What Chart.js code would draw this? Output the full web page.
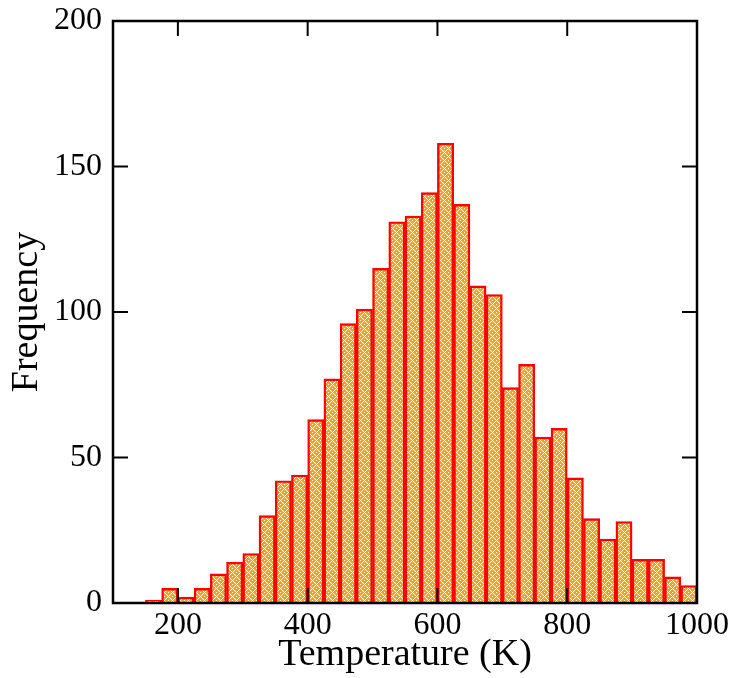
<!DOCTYPE html>
<html>
<head>
<meta charset="utf-8">
<script src="https://cdn.jsdelivr.net/npm/chart.js@4"></script>
<style>
  html, body { margin: 0; padding: 0; background: #ffffff; }
  #wrap { width: 733px; height: 678px; }
</style>
</head>
<body>
<div id="wrap"><canvas id="c" width="733" height="678"></canvas></div>
<script>
// ---- data ----
const binLow = [150,175,200,225,250,275,300,325,350,375,400,425,450,475,500,525,550,575,600,625,650,675,700,725,750,775,800,825,850,875,900,925,950,975];
const binWidth = 25;
const frequency = [1,5,2,5,10,14,17,30,42,44,63,77,96,101,115,131,133,141,158,137,109,106,74,82,57,60,43,29,22,28,15,15,9,6];
const xTickValues = [200,400,600,800,1000];
const yTickValues = [0,50,100,150,200];
const xTitle = 'Temperature (K)';
const yTitle = 'Frequency';

const FONT = "'Liberation Serif', 'Times New Roman', serif";

// woven pattern fill
function makePattern() {
  const t = document.createElement('canvas');
  t.width = 8; t.height = 8;
  const g = t.getContext('2d');
  g.fillStyle = '#ffa500';
  g.fillRect(0, 0, 8, 8);
  g.fillStyle = '#ffffff';
  for (let y = 0; y < 8; y++) {
    for (let x = 0; x < 8; x++) {
      const blk = ((x >> 2) + (y >> 2)) % 2;
      const a = blk === 0 ? (x + y) % 4 : (x - y + 8) % 4;
      if (a === 0) g.fillRect(x, y, 1, 1);
    }
  }
  return document.getElementById('c').getContext('2d').createPattern(t, 'repeat');
}

const points = binLow.map((lo, i) => ({ x: lo + binWidth / 2, y: frequency[i] }));

const framePlugin = {
  id: 'frame',
  beforeDraw(chart) {
    const ctx = chart.ctx;
    ctx.save();
    ctx.fillStyle = '#ffffff';
    ctx.fillRect(0, 0, chart.width, chart.height);
    ctx.restore();
  },
  afterDatasetsDraw(chart) {
    const { ctx, chartArea: a, scales: { x, y } } = chart;
    const tl = 15;
    ctx.save();
    ctx.strokeStyle = '#000000';
    ctx.lineWidth = 2;
    ctx.beginPath();
    yTickValues.forEach(v => {
      const p = y.getPixelForValue(v);
      ctx.moveTo(a.left, p); ctx.lineTo(a.left + tl, p);
      ctx.moveTo(a.right, p); ctx.lineTo(a.right - tl, p);
    });
    xTickValues.forEach(v => {
      const p = x.getPixelForValue(v);
      ctx.moveTo(p, a.bottom); ctx.lineTo(p, a.bottom - tl);
      ctx.moveTo(p, a.top); ctx.lineTo(p, a.top + tl);
    });
    ctx.stroke();
    ctx.lineWidth = 2.5;
    ctx.strokeRect(a.left, a.top, a.right - a.left, a.bottom - a.top);
    ctx.restore();
  }
};

function zeroPad(s) { s.paddingTop = 0; s.paddingBottom = 0; s.paddingLeft = 0; s.paddingRight = 0; }

new Chart(document.getElementById('c'), {
  type: 'bar',
  data: {
    datasets: [{
      data: points,
      backgroundColor: makePattern(),
      borderColor: '#ff0000',
      borderWidth: 2.4,
      borderSkipped: 'start',
      barPercentage: 1,
      categoryPercentage: 1
    }]
  },
  options: {
    responsive: false,
    devicePixelRatio: 1,
    animation: false,
    layout: { padding: { top: 21, right: 36, bottom: 0, left: 0 } },
    plugins: { legend: { display: false }, tooltip: { enabled: false } },
    scales: {
      x: {
        type: 'linear',
        min: 100, max: 1000,
        offset: false,
        grid: { display: false, drawTicks: false, tickLength: 0 },
        border: { display: false },
        afterBuildTicks: s => { s.ticks = xTickValues.map(v => ({ value: v })); },
        afterFit: s => { s.height = 75; zeroPad(s); },
        ticks: { color: '#000', font: { family: FONT, size: 32 }, padding: 3, maxRotation: 0, autoSkip: false,
                 callback: v => String(v) },
        title: { display: true, text: xTitle, color: '#000', font: { family: FONT, size: 38 }, padding: { top: 0, bottom: 0 } }
      },
      y: {
        min: 0, max: 200,
        grid: { display: false, drawTicks: false, tickLength: 0 },
        border: { display: false },
        afterBuildTicks: s => { s.ticks = yTickValues.map(v => ({ value: v })); },
        afterFit: s => { s.width = 113; zeroPad(s); },
        ticks: { color: '#000', font: { family: FONT, size: 32 }, padding: 11, callback: v => String(v) },
        title: { display: true, text: yTitle, color: '#000', font: { family: FONT, size: 38 }, padding: { top: 4, bottom: 0 } }
      }
    }
  },
  plugins: [framePlugin]
});
</script>
</body>
</html>
